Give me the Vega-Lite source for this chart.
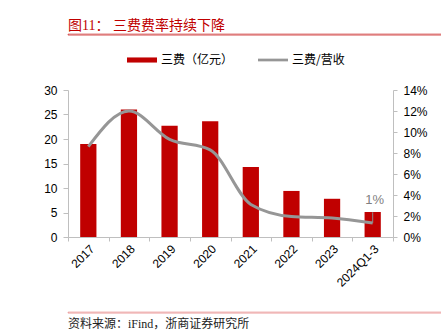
{
  "$schema": "https://vega.github.io/schema/vega-lite/v6.json",
  "padding": {"left": 20, "top": 18, "right": 11, "bottom": 2},
  "background": "white",
  "spacing": 9,
  "config": {
    "view": {"stroke": null},
    "font": "Liberation Sans"
  },
  "resolve": {"legend": {"color": "independent"}, "scale": {"color": "independent"}},
  "vconcat": [
    {
      "width": 410,
      "height": 1,
      "view": {"stroke": "#c00000", "strokeWidth": 0.6},
      "title": {"text": "图11：  三费费率持续下降", "anchor": "start", "orient": "top", "offset": 1, "fontSize": 14, "font": "Liberation Serif, Noto Sans CJK SC", "color": "#c00000", "fontWeight": "normal"},
      "data": {"values": []},
      "mark": "text",
      "encoding": {"text": {"field": "t", "type": "nominal"}}
    },
    {
      "width": 325,
      "height": 147,
      "data": {"values": [
        {"year": "2017", "cost": 19.0, "pct": 8.6, "label": ""},
        {"year": "2018", "cost": 26.0, "pct": 12.0, "label": ""},
        {"year": "2019", "cost": 22.7, "pct": 9.3, "label": ""},
        {"year": "2020", "cost": 23.6, "pct": 8.3, "label": ""},
        {"year": "2021", "cost": 14.3, "pct": 3.1, "label": ""},
        {"year": "2022", "cost": 9.4, "pct": 1.95, "label": ""},
        {"year": "2023", "cost": 7.8, "pct": 1.8, "label": ""},
        {"year": "2024Q1-3", "cost": 5.1, "pct": 1.33, "label": "1%"}
      ]},
      "encoding": {
        "x": {
          "field": "year", "type": "nominal", "sort": null,
          "scale": {"type": "band", "paddingInner": 0, "paddingOuter": 0},
          "axis": {"title": null, "labelAngle": -45, "labelFontSize": 12, "labelColor": "#000", "domainColor": "#bfbfbf", "tickColor": "#bfbfbf", "tickSize": 4, "tickBand": "extent", "labelPadding": 2, "minExtent": 65}
        }
      },
      "layer": [
        {
          "mark": {"type": "bar", "width": {"band": 0.4}},
          "encoding": {
            "y": {"field": "cost", "type": "quantitative", "scale": {"domain": [0, 30]},
              "axis": {"title": null, "values": [0, 5, 10, 15, 20, 25, 30], "grid": false, "labelFontSize": 12, "labelColor": "#000", "domainColor": "#bfbfbf", "tickColor": "#bfbfbf", "tickSize": 5, "labelPadding": 6, "minExtent": 48, "labelOverlap": false}},
            "color": {"datum": "三费（亿元）", "type": "nominal",
              "scale": {"domain": ["三费（亿元）", "三费/营收"], "range": ["#c00000", "#969696"]},
              "legend": {
                "title": null, "orient": "none", "legendX": 59, "legendY": -45, "direction": "horizontal",
                "labelFont": "Noto Sans CJK SC", "labelFontSize": 12, "labelColor": "#000",
                "symbolSize": 900, "labelOffset": 4, "columnPadding": 24,
                "encode": {"symbols": {"update": {
                  "shape": {"signal": "datum.value === '三费（亿元）' ? 'M-1,-0.17H1V0.17H-1Z' : 'M-1,-0.09H1V0.09H-1Z'"},
                  "fill": {"scale": "color", "field": "value"},
                  "strokeWidth": {"value": 0}
                }}}
              }}
          }
        },
        {
          "encoding": {
            "y": {"field": "pct", "type": "quantitative", "scale": {"domain": [0, 14]},
              "axis": {"title": null, "orient": "right", "values": [0, 2, 4, 6, 8, 10, 12, 14], "labelExpr": "datum.value + '%'", "grid": false, "labelFontSize": 12, "labelColor": "#000", "domainColor": "#bfbfbf", "tickColor": "#bfbfbf", "tickSize": 4, "labelPadding": 6, "labelOverlap": false}}
          },
          "layer": [
            {
              "mark": {"type": "line", "interpolate": "monotone", "strokeWidth": 3},
              "encoding": {
                "color": {"datum": "三费/营收", "type": "nominal"}
              }
            },
            {
              "transform": [{"filter": "datum.label !== ''"}],
              "mark": {"type": "rule", "color": "#8c8c8c", "strokeWidth": 1},
              "encoding": {
                "y2": {"datum": 2.35}
              }
            },
            {
              "transform": [{"filter": "datum.label !== ''"}],
              "mark": {"type": "text", "dy": -23, "dx": 2, "fontSize": 13, "color": "#7f7f7f", "baseline": "middle"},
              "encoding": {
                "text": {"field": "label"}
              }
            }
          ]
        }
      ],
      "resolve": {"scale": {"y": "independent"}}
    },
    {
      "width": 410,
      "height": 1,
      "view": {"stroke": "#e07070", "strokeWidth": 0.6},
      "title": {"text": "资料来源：iFind，浙商证券研究所", "anchor": "start", "orient": "bottom", "offset": 6, "fontSize": 12, "font": "Liberation Serif, Noto Sans CJK SC", "color": "#222", "fontWeight": "normal"},
      "data": {"values": []},
      "mark": "text",
      "encoding": {"text": {"field": "t", "type": "nominal"}}
    }
  ]
}
